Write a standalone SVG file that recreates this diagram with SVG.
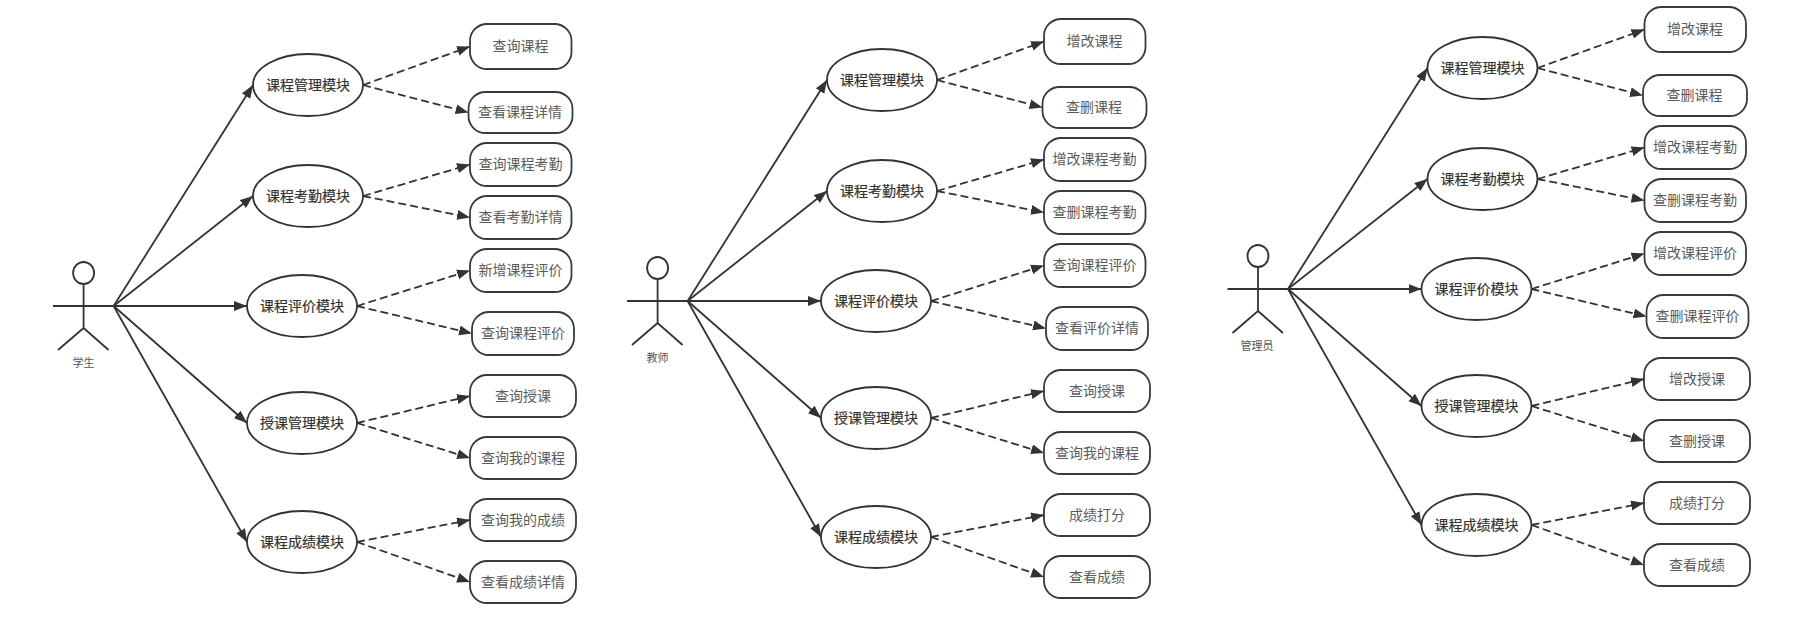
<svg xmlns="http://www.w3.org/2000/svg" width="1797" height="641" viewBox="0 0 1797 641">
<defs>
<marker id="arrow" markerUnits="userSpaceOnUse" markerWidth="14" markerHeight="11" refX="13" refY="5" orient="auto"><path d="M0,0 L13,5 L0,10 Z" fill="#333"/></marker>
</defs>
<style>
text{font-family:"Liberation Sans","Noto Sans CJK SC",sans-serif;text-anchor:middle;dominant-baseline:central}
.m ellipse{fill:#fff;stroke:#333;stroke-width:1.8}
.m text{font-size:14px;fill:#333;stroke:#333;stroke-width:.2}
.f rect{fill:#fff;stroke:#363b40;stroke-width:1.8}
.f text{font-size:14px;fill:#5c5c5c}
.a ellipse{fill:#fff;stroke:#333;stroke-width:1.8}
.a path{fill:none;stroke:#333;stroke-width:1.8}
.a text{font-size:11px;fill:#555}
#connectors line{stroke:#333;stroke-width:1.8;marker-end:url(#arrow)}
#connectors .d{stroke-dasharray:8 4}
</style>
<rect width="1797" height="641" fill="#fff"/>
<g id="connectors">
<line x1="113.6" y1="306" x2="253" y2="85"/><line x1="113.6" y1="306" x2="253" y2="196"/><line x1="113.6" y1="306" x2="247" y2="306"/><line x1="113.6" y1="306" x2="247" y2="423"/><line x1="113.6" y1="306" x2="247" y2="542"/>
<line class="d" x1="363" y1="85" x2="470" y2="46.5"/><line class="d" x1="363" y1="85" x2="468.5" y2="112.5"/><line class="d" x1="363" y1="196" x2="470" y2="164.5"/><line class="d" x1="363" y1="196" x2="470" y2="217.5"/><line class="d" x1="357" y1="306" x2="470" y2="270.5"/><line class="d" x1="357" y1="306" x2="472" y2="333.5"/><line class="d" x1="357" y1="423" x2="470" y2="396"/><line class="d" x1="357" y1="423" x2="470" y2="458"/><line class="d" x1="357" y1="542" x2="470" y2="520"/><line class="d" x1="357" y1="542" x2="470" y2="582"/>
<line x1="687.6" y1="301" x2="827" y2="80"/><line x1="687.6" y1="301" x2="827" y2="191"/><line x1="687.6" y1="301" x2="821" y2="301"/><line x1="687.6" y1="301" x2="821" y2="418"/><line x1="687.6" y1="301" x2="821" y2="537"/>
<line class="d" x1="937" y1="80" x2="1044" y2="41.5"/><line class="d" x1="937" y1="80" x2="1042.5" y2="107.5"/><line class="d" x1="937" y1="191" x2="1044" y2="159.5"/><line class="d" x1="937" y1="191" x2="1044" y2="212.5"/><line class="d" x1="931" y1="301" x2="1044" y2="265.5"/><line class="d" x1="931" y1="301" x2="1046" y2="328.5"/><line class="d" x1="931" y1="418" x2="1044" y2="391"/><line class="d" x1="931" y1="418" x2="1044" y2="453"/><line class="d" x1="931" y1="537" x2="1044" y2="515"/><line class="d" x1="931" y1="537" x2="1044" y2="577"/>
<line x1="1288" y1="289" x2="1427.5" y2="68"/><line x1="1288" y1="289" x2="1427.5" y2="179"/><line x1="1288" y1="289" x2="1421.5" y2="289"/><line x1="1288" y1="289" x2="1421.5" y2="406"/><line x1="1288" y1="289" x2="1421.5" y2="525"/>
<line class="d" x1="1537.5" y1="68" x2="1644.5" y2="29.5"/><line class="d" x1="1537.5" y1="68" x2="1643" y2="95.5"/><line class="d" x1="1537.5" y1="179" x2="1644.5" y2="147.5"/><line class="d" x1="1537.5" y1="179" x2="1644.5" y2="200.5"/><line class="d" x1="1531.5" y1="289" x2="1644.5" y2="253.5"/><line class="d" x1="1531.5" y1="289" x2="1646.5" y2="316.5"/><line class="d" x1="1531.5" y1="406" x2="1644" y2="379"/><line class="d" x1="1531.5" y1="406" x2="1644" y2="441"/><line class="d" x1="1531.5" y1="525" x2="1644" y2="503"/><line class="d" x1="1531.5" y1="525" x2="1644" y2="565"/>
</g>
<g id="actor1" class="a"><ellipse cx="83.6" cy="273" rx="10.5" ry="11"/><path d="M53,306H113.6M83.6,284V328M58,350L83.6,328L108.6,350"/><text x="83.6" y="363">学生</text></g>
<g id="s1m1" class="m"><ellipse cx="308" cy="85" rx="55" ry="31"/><text x="308" y="85">课程管理模块</text></g>
<g id="s1m2" class="m"><ellipse cx="308" cy="196" rx="55" ry="31"/><text x="308" y="196">课程考勤模块</text></g>
<g id="s1m3" class="m"><ellipse cx="302" cy="306" rx="55" ry="31"/><text x="302" y="306">课程评价模块</text></g>
<g id="s1m4" class="m"><ellipse cx="302" cy="423" rx="55" ry="31"/><text x="302" y="423">授课管理模块</text></g>
<g id="s1m5" class="m"><ellipse cx="302" cy="542" rx="55" ry="31"/><text x="302" y="542">课程成绩模块</text></g>
<g id="s1f1" class="f"><rect x="470" y="24" width="101.5" height="45" rx="17"/><text x="520.5" y="46">查询课程</text></g>
<g id="s1f2" class="f"><rect x="468.5" y="92" width="104" height="41" rx="17"/><text x="520" y="112">查看课程详情</text></g>
<g id="s1f3" class="f"><rect x="470" y="143" width="101.5" height="43" rx="17"/><text x="520.5" y="164">查询课程考勤</text></g>
<g id="s1f4" class="f"><rect x="470" y="196" width="101.5" height="43" rx="17"/><text x="520.5" y="217">查看考勤详情</text></g>
<g id="s1f5" class="f"><rect x="470" y="249" width="101.5" height="43" rx="17"/><text x="520.5" y="270">新增课程评价</text></g>
<g id="s1f6" class="f"><rect x="472" y="312" width="102" height="43" rx="17"/><text x="523" y="333">查询课程评价</text></g>
<g id="s1f7" class="f"><rect x="470" y="375" width="106" height="42" rx="17"/><text x="523" y="395.5">查询授课</text></g>
<g id="s1f8" class="f"><rect x="470" y="437" width="106" height="42" rx="17"/><text x="523" y="457.5">查询我的课程</text></g>
<g id="s1f9" class="f"><rect x="470" y="499" width="106" height="42" rx="17"/><text x="523" y="519.5">查询我的成绩</text></g>
<g id="s1f10" class="f"><rect x="470" y="561" width="106" height="42" rx="17"/><text x="523" y="581.5">查看成绩详情</text></g>
<g id="actor2" class="a"><ellipse cx="657.6" cy="268" rx="10.5" ry="11"/><path d="M627,301H687.6M657.6,279V323M632,345L657.6,323L682.6,345"/><text x="657.6" y="358">教师</text></g>
<g id="s2m1" class="m"><ellipse cx="882" cy="80" rx="55" ry="31"/><text x="882" y="80">课程管理模块</text></g>
<g id="s2m2" class="m"><ellipse cx="882" cy="191" rx="55" ry="31"/><text x="882" y="191">课程考勤模块</text></g>
<g id="s2m3" class="m"><ellipse cx="876" cy="301" rx="55" ry="31"/><text x="876" y="301">课程评价模块</text></g>
<g id="s2m4" class="m"><ellipse cx="876" cy="418" rx="55" ry="31"/><text x="876" y="418">授课管理模块</text></g>
<g id="s2m5" class="m"><ellipse cx="876" cy="537" rx="55" ry="31"/><text x="876" y="537">课程成绩模块</text></g>
<g id="s2f1" class="f"><rect x="1044" y="19" width="101.5" height="45" rx="17"/><text x="1094.5" y="41">增改课程</text></g>
<g id="s2f2" class="f"><rect x="1042.5" y="87" width="104" height="41" rx="17"/><text x="1094" y="107">查删课程</text></g>
<g id="s2f3" class="f"><rect x="1044" y="138" width="101.5" height="43" rx="17"/><text x="1094.5" y="159">增改课程考勤</text></g>
<g id="s2f4" class="f"><rect x="1044" y="191" width="101.5" height="43" rx="17"/><text x="1094.5" y="212">查删课程考勤</text></g>
<g id="s2f5" class="f"><rect x="1044" y="244" width="101.5" height="43" rx="17"/><text x="1094.5" y="265">查询课程评价</text></g>
<g id="s2f6" class="f"><rect x="1046" y="307" width="102" height="43" rx="17"/><text x="1097" y="328">查看评价详情</text></g>
<g id="s2f7" class="f"><rect x="1044" y="370" width="106" height="42" rx="17"/><text x="1097" y="390.5">查询授课</text></g>
<g id="s2f8" class="f"><rect x="1044" y="432" width="106" height="42" rx="17"/><text x="1097" y="452.5">查询我的课程</text></g>
<g id="s2f9" class="f"><rect x="1044" y="494" width="106" height="42" rx="17"/><text x="1097" y="514.5">成绩打分</text></g>
<g id="s2f10" class="f"><rect x="1044" y="556" width="106" height="42" rx="17"/><text x="1097" y="576.5">查看成绩</text></g>
<g id="actor3" class="a"><ellipse cx="1258" cy="256" rx="10.5" ry="11"/><path d="M1227.5,289H1288M1258,267V311M1232.5,333L1258,311L1283,333"/><text x="1257" y="346">管理员</text></g>
<g id="s3m1" class="m"><ellipse cx="1482.5" cy="68" rx="55" ry="31"/><text x="1482.5" y="68">课程管理模块</text></g>
<g id="s3m2" class="m"><ellipse cx="1482.5" cy="179" rx="55" ry="31"/><text x="1482.5" y="179">课程考勤模块</text></g>
<g id="s3m3" class="m"><ellipse cx="1476.5" cy="289" rx="55" ry="31"/><text x="1476.5" y="289">课程评价模块</text></g>
<g id="s3m4" class="m"><ellipse cx="1476.5" cy="406" rx="55" ry="31"/><text x="1476.5" y="406">授课管理模块</text></g>
<g id="s3m5" class="m"><ellipse cx="1476.5" cy="525" rx="55" ry="31"/><text x="1476.5" y="525">课程成绩模块</text></g>
<g id="s3f1" class="f"><rect x="1644.5" y="7" width="101.5" height="45" rx="17"/><text x="1695" y="29">增改课程</text></g>
<g id="s3f2" class="f"><rect x="1643" y="75" width="104" height="41" rx="17"/><text x="1694.5" y="95">查删课程</text></g>
<g id="s3f3" class="f"><rect x="1644.5" y="126" width="101.5" height="43" rx="17"/><text x="1695" y="147">增改课程考勤</text></g>
<g id="s3f4" class="f"><rect x="1644.5" y="179" width="101.5" height="43" rx="17"/><text x="1695" y="200">查删课程考勤</text></g>
<g id="s3f5" class="f"><rect x="1644.5" y="232" width="101.5" height="43" rx="17"/><text x="1695" y="253">增改课程评价</text></g>
<g id="s3f6" class="f"><rect x="1646.5" y="295" width="102" height="43" rx="17"/><text x="1697.5" y="316">查删课程评价</text></g>
<g id="s3f7" class="f"><rect x="1644" y="358" width="106" height="42" rx="17"/><text x="1697" y="378.5">增改授课</text></g>
<g id="s3f8" class="f"><rect x="1644" y="420" width="106" height="42" rx="17"/><text x="1697" y="440.5">查删授课</text></g>
<g id="s3f9" class="f"><rect x="1644" y="482" width="106" height="42" rx="17"/><text x="1697" y="502.5">成绩打分</text></g>
<g id="s3f10" class="f"><rect x="1644" y="544" width="106" height="42" rx="17"/><text x="1697" y="564.5">查看成绩</text></g>
</svg>
